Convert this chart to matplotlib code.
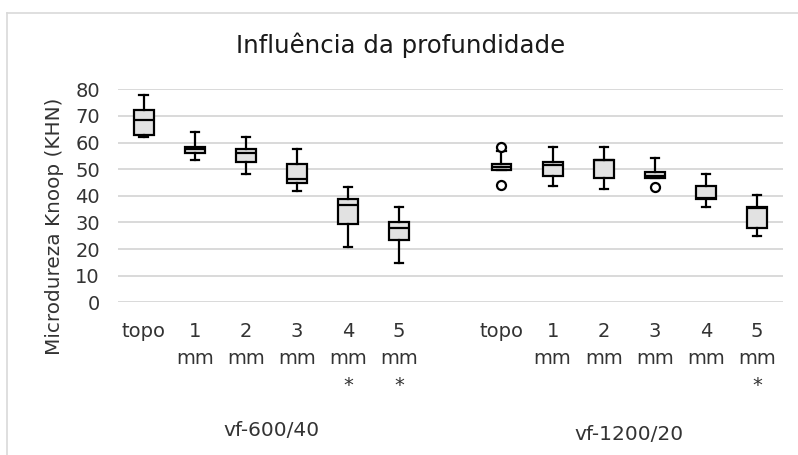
import matplotlib.pyplot as plt
from matplotlib.lines import Line2D
from matplotlib.transforms import blended_transform_factory

plt.rcParams['font.family'] = ['DejaVu Sans']

# dados
rotulos = ['topo', '1\nmm', '2\nmm', '3\nmm', '4\nmm\n*', '5\nmm\n*',
           'topo', '1\nmm', '2\nmm', '3\nmm', '4\nmm', '5\nmm\n*']
grupos = ['vf-600/40', 'vf-1200/20']
posicoes = [0, 1, 2, 3, 4, 5, 7, 8, 9, 10, 11, 12]

minimos = [62.2, 53.6, 48.1, 41.9, 20.8, 14.8, 49.7, 43.6, 42.7, 46.7, 35.7, 24.9]
q1 = [62.7, 56.0, 52.7, 44.9, 29.5, 23.3, 49.7, 47.3, 46.6, 46.7, 38.7, 27.8]
medianas = [68.5, 57.5, 56.0, 46.4, 36.7, 28.0, 51.0, 51.6, 53.3, 47.6, 39.2, 35.3]
q3 = [72.2, 58.2, 57.5, 52.0, 38.8, 30.2, 51.8, 52.8, 53.6, 48.8, 43.6, 35.8]
maximos = [77.9, 63.8, 62.1, 57.5, 43.4, 35.8, 57.0, 58.2, 58.2, 54.3, 48.1, 40.3]
outliers = [[], [], [], [], [], [], [58.5, 44.2], [], [], [43.4], [], []]

stats = []
for i in range(len(posicoes)):
    stats.append({'whislo': minimos[i], 'q1': q1[i], 'med': medianas[i],
                  'q3': q3[i], 'whishi': maximos[i], 'fliers': outliers[i]})

fig = plt.figure(figsize=(7.98, 4.55), dpi=100)
ax = fig.add_axes([118/798, 1-302.3/455, 664.7/798, 213/455])

ax.bxp(stats, positions=posicoes, widths=0.39, patch_artist=True,
       boxprops=dict(facecolor='#e2e2e2', edgecolor='black', linewidth=1.6),
       medianprops=dict(color='black', linewidth=1.6),
       whiskerprops=dict(color='black', linewidth=1.6),
       capprops=dict(color='black', linewidth=1.6), capwidths=0.16,
       flierprops=dict(marker='o', markerfacecolor='white', markeredgecolor='black',
                       markersize=6.5, markeredgewidth=1.6),
       zorder=3)

ax.set_xlim(-0.5, 12.5)
ax.set_ylim(0, 80)
ax.set_yticks(range(0, 81, 10))
ax.set_xticks(posicoes)
ax.set_xticklabels(rotulos, fontsize=14, linespacing=1.55, color='#333333')
ax.tick_params(axis='x', length=0, pad=14)
ax.tick_params(axis='y', length=0, pad=13, labelsize=14, labelcolor='#333333')
ax.grid(axis='y', color='#d9d9d9', linewidth=1.4, zorder=0)
ax.set_axisbelow(True)
for s in ax.spines.values():
    s.set_visible(False)

ax.set_ylabel('Microdureza Knoop (KHN)', fontsize=14.4, color='#333333')
ax.yaxis.set_label_coords(-0.081, 0.356)
fig.text(401/798, 1-53/455, 'Influência da profundidade', fontsize=17.6,
         color='#1a1a1a', ha='center', va='baseline')

trans = blended_transform_factory(ax.transData, ax.transAxes)
ax.text(2.5, -0.6, grupos[0], transform=trans, ha='center', va='center',
        fontsize=14.5, color='#333333')
ax.text(9.5, -0.62, grupos[1], transform=trans, ha='center', va='center',
        fontsize=14.5, color='#333333')

# borda do grafico (so esquerda e topo aparecem)
fig.add_artist(Line2D([7/798, 7/798], [0, 1-13/455], transform=fig.transFigure,
                      color='#d9d9d9', linewidth=1.2))
fig.add_artist(Line2D([7/798, 1], [1-13/455, 1-13/455], transform=fig.transFigure,
                      color='#d9d9d9', linewidth=1.2))

fig.savefig('out.png', dpi=100)
